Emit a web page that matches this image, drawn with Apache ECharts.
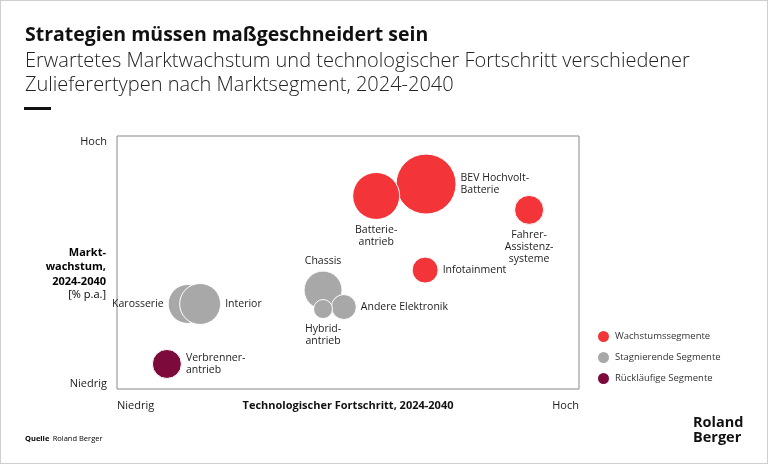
<!DOCTYPE html>
<html>
<head>
    <meta http-equiv="Content-Type" content="text/html; charset=utf-8" />
    <title>Strategien müssen maßgeschneidert sein</title>
    <script src="https://cdn.jsdelivr.net/npm/echarts@6/dist/echarts.min.js"></script>
    <style>
        html, body { margin: 0; padding: 0; background: #fff; }
        #main { width: 766px; height: 462px; border: 1px solid #cfcfcf; }
    </style>
</head>
<body>
    <div id="main"></div>
    <script type="text/javascript">

    // Marktsegmente
    var segmentNames = ['BEV Hochvolt-\nBatterie', 'Batterie-\nantrieb', 'Fahrer-\nAssistenz-\nsysteme', 'Infotainment',
                        'Karosserie', 'Interior', 'Chassis', 'Andere Elektronik', 'Hybrid-\nantrieb', 'Verbrenner-\nantrieb'];
    // Technologischer Fortschritt (0 = niedrig, 100 = hoch)
    var techProgress = [66.9, 56.1, 89.2, 66.7, 15.3, 18.0, 44.6, 49.1, 44.6, 10.8];
    // Marktwachstum (0 = niedrig, 100 = hoch)
    var marketGrowth = [81.0, 76.3, 70.8, 47.0, 33.6, 33.6, 39.1, 32.4, 31.6, 9.9];
    // Blasengroesse
    var bubbleSize = [60, 47, 29, 26, 39, 41, 38, 25, 19, 29];
    // 0 = Wachstum, 1 = Stagnierend, 2 = Ruecklaeufig
    var segmentGroup = [0, 0, 0, 0, 1, 1, 1, 1, 1, 2];
    var groupNames = ['Wachstumssegmente', 'Stagnierende Segmente', 'Rückläufige Segmente'];
    var groupColors = ['#f3353a', '#a8a8a8', '#7c0a3b'];
    var labelPlace = ['right', 'bottom', 'bottom', 'right', 'left', 'right', 'top', 'right', 'bottom', 'right'];

    var FONT = 'Open Sans';

    var myChart = echarts.init(document.getElementById('main'));

    var series = groupNames.map(function (g, gi) {
        var data = [];
        for (var i = 0; i < segmentNames.length; i++) {
            if (segmentGroup[i] !== gi) continue;
            data.push({
                name: segmentNames[i],
                value: [techProgress[i], marketGrowth[i], bubbleSize[i]],
                label: { position: labelPlace[i], align: labelPlace[i] === 'left' ? 'right' : (labelPlace[i] === 'right' ? 'left' : 'center') }
            });
        }
        return {
            name: g,
            type: 'scatter',
            data: data,
            symbolSize: function (val) { return val[2]; },
            itemStyle: { color: groupColors[gi], opacity: 1, borderColor: '#fff', borderWidth: 1 },
            label: {
                show: true,
                formatter: '{b}',
                color: '#222',
                fontFamily: FONT,
                fontSize: 10.5,
                lineHeight: 12,
                distance: 4
            },
            emphasis: { disabled: true }
        };
    });

    var option = {
        animation: false,
        backgroundColor: '#fff',
        textStyle: { fontFamily: FONT },
        title: {
            text: 'Strategien müssen maßgeschneidert sein',
            subtext: 'Erwartetes Marktwachstum und technologischer Fortschritt verschiedener\nZulieferertypen nach Marktsegment, 2024-2040',
            left: 19,
            top: 19,
            itemGap: 4,
            textStyle: { fontFamily: FONT, fontWeight: 'bold', fontSize: 19.5, color: '#111' },
            subtextStyle: { fontFamily: FONT, fontWeight: 300, fontSize: 20, color: '#222', lineHeight: 24.5 }
        },
        legend: {
            orient: 'vertical',
            left: 595,
            top: 328,
            padding: 0,
            itemGap: 6,
            itemWidth: 13,
            itemHeight: 13,
            icon: 'circle',
            data: groupNames,
            textStyle: { fontFamily: FONT, fontSize: 9.5, color: '#333' }
        },
        grid: {
            left: 116,
            top: 135,
            right: 188,
            bottom: 74,
            show: true,
            borderColor: '#888',
            borderWidth: 1
        },
        xAxis: {
            type: 'value',
            min: 0,
            max: 100,
            interval: 100,
            splitLine: { show: false },
            axisLine: { show: false },
            axisTick: { show: false },
            axisLabel: {
                margin: 11,
                alignMinLabel: 'left',
                alignMaxLabel: 'right',
                fontFamily: FONT,
                fontSize: 11,
                color: '#222',
                formatter: function (v) { return v === 0 ? 'Niedrig' : 'Hoch'; }
            },
            name: 'Technologischer Fortschritt, 2024-2040',
            nameLocation: 'middle',
            nameGap: 11,
            nameMoveOverlap: false,
            nameTextStyle: { fontFamily: FONT, fontWeight: 'bold', fontSize: 11, color: '#111', verticalAlign: 'top' }
        },
        yAxis: {
            type: 'value',
            min: 0,
            max: 100,
            interval: 100,
            splitLine: { show: false },
            axisLine: { show: false },
            axisTick: { show: false },
            axisLabel: {
                margin: 10,
                verticalAlignMinLabel: 'bottom',
                verticalAlignMaxLabel: 'top',
                fontFamily: FONT,
                fontSize: 11,
                color: '#222',
                formatter: function (v) { return v === 0 ? 'Niedrig' : 'Hoch'; }
            }
        },
        graphic: [
            {
                type: 'rect',
                left: 23,
                top: 106,
                shape: { width: 27, height: 3 },
                style: { fill: '#111' }
            },
            {
                type: 'text',
                right: 661,
                top: 246,
                style: {
                    text: '{b|Markt-}\n{b|wachstum,}\n{b|2024-2040}\n{r|[% p.a.]}',
                    align: 'right',
                    rich: {
                        b: { fontFamily: FONT, fontWeight: 'bold', fontSize: 11, lineHeight: 14.5, color: '#111', align: 'right' },
                        r: { fontFamily: FONT, fontSize: 11, lineHeight: 13, color: '#222', align: 'right' }
                    }
                }
            },
            {
                type: 'text',
                left: 24,
                top: 432,
                style: {
                    text: '{b|Quelle} {r|Roland Berger}',
                    rich: {
                        b: { fontFamily: FONT, fontWeight: 'bold', fontSize: 7.5, color: '#111' },
                        r: { fontFamily: FONT, fontSize: 7.5, color: '#555' }
                    }
                }
            },
            {
                type: 'text',
                left: 692,
                top: 414,
                style: {
                    text: 'Roland\nBerger',
                    fontFamily: FONT,
                    fontWeight: 'bold',
                    fontSize: 14.5,
                    lineHeight: 15,
                    fill: '#111'
                }
            }
        ],
        series: series
    };

    myChart.setOption(option);
    </script>
</body>
</html>
